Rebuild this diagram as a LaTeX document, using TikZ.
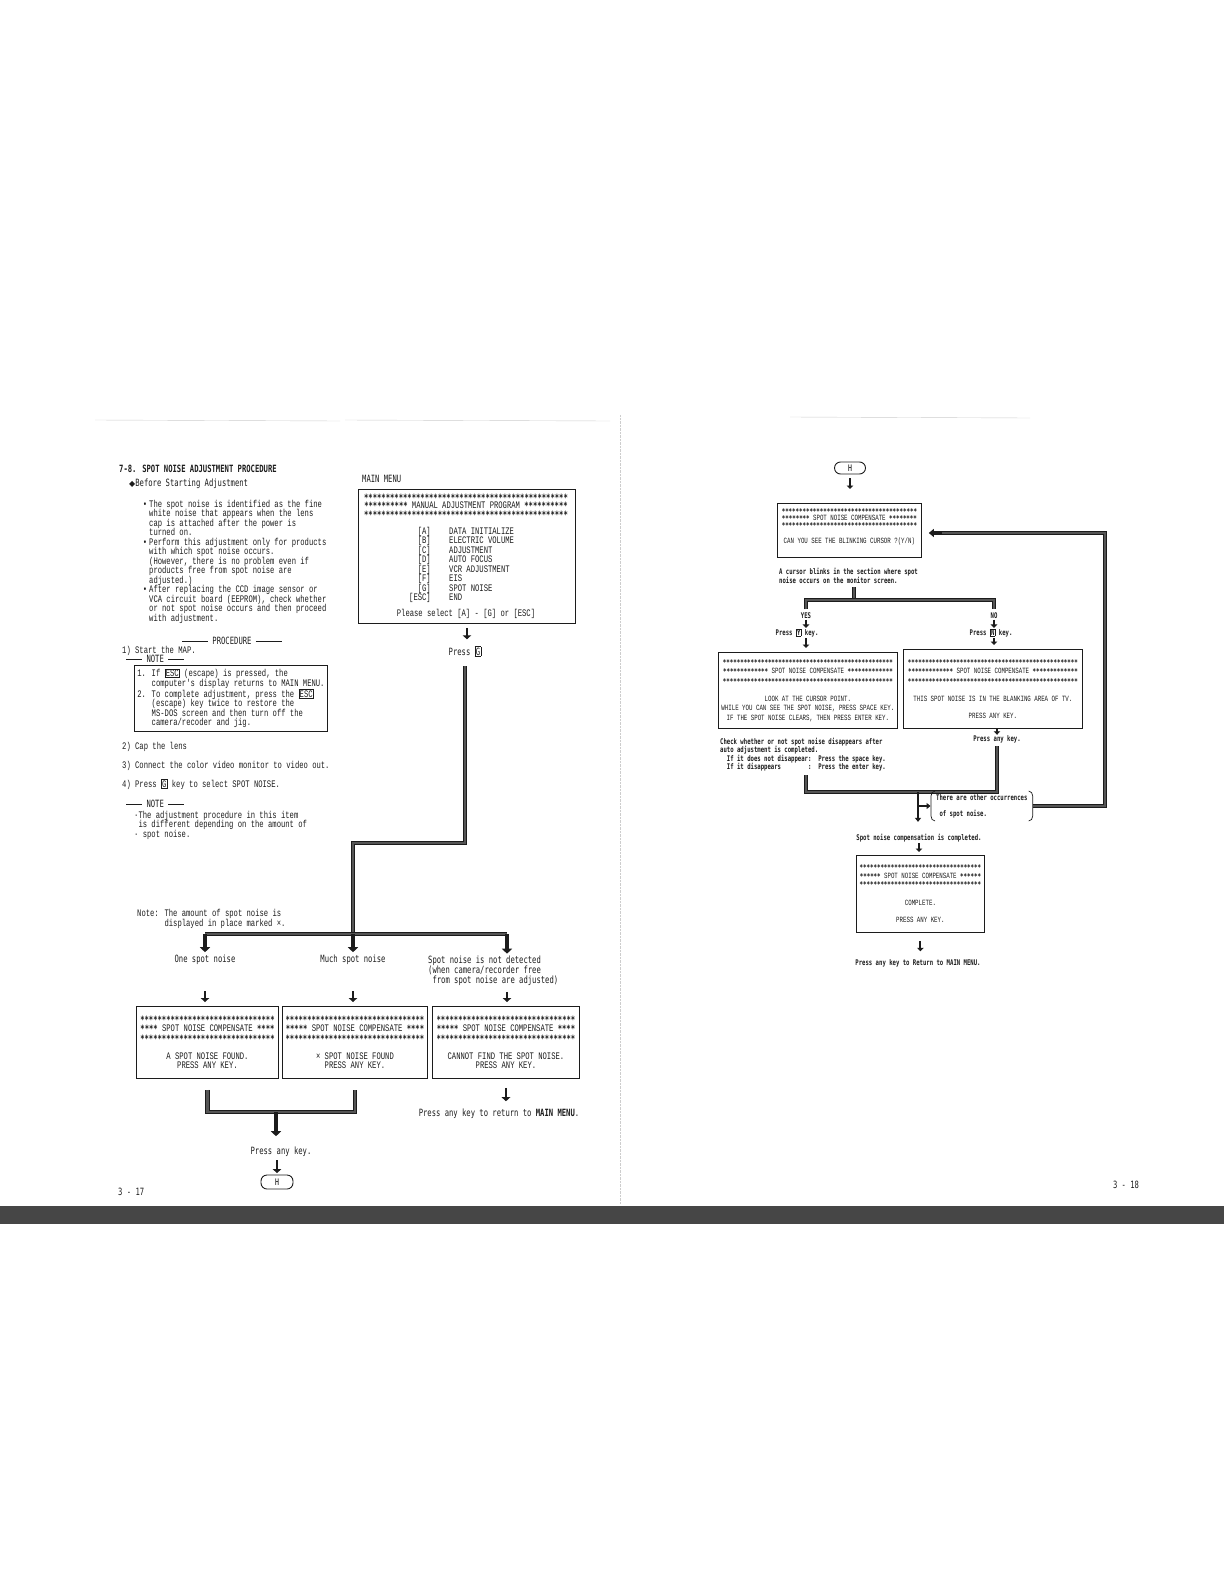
\documentclass[tikz,border=0pt]{standalone}
\usepackage{fontspec}
\usetikzlibrary{arrows.meta,positioning,calc}
\newfontfamily\mincho[FakeStretch=0.72]{Liberation Mono}
\newfontfamily\gothic[FakeStretch=0.72]{DejaVu Sans Mono}
\newfontfamily\symfont{DejaVu Sans}
\definecolor{scanink}{RGB}{28,28,28}
\definecolor{scanpipe}{RGB}{85,85,85}
\definecolor{scanband}{RGB}{70,70,70}
\definecolor{scanfaint}{RGB}{205,205,205}
\newcommand\keycap[1]{{\setlength\fboxsep{0.5pt}\setlength\fboxrule{0.6pt}\fbox{#1}}}
\newcommand\stars[1]{\raisebox{-0.12em}{\gothic\bfseries\foreach\s in {1,...,#1}{*}}}
\newcommand\bodyfont{\mincho\fontsize{10}{9.5}\selectfont}
\newcommand\labfont{\gothic\fontsize{10}{10}\selectfont}
\newcommand\scrfont{\mincho\fontsize{8}{9.5}\selectfont}
\newcommand\notefont{\gothic\bfseries\fontsize{7.8}{8.3}\selectfont}
\tikzset{
  txt/.style={inner sep=0pt, font=\bodyfont, align=left, text=scanink},
  lab/.style={txt, font=\labfont},
  rlab/.style={txt, font=\notefont},
  scrbox/.style={draw=scanink, line width=0.9pt, inner sep=0pt, anchor=north west,
                 font=\bodyfont, align=center, text=scanink},
  rscrbox/.style={scrbox, line width=0.8pt, font=\scrfont},
  pipe/.style={draw=scanink, line width=1pt, double=scanpipe, double distance=2.6pt},
  rpipe/.style={draw=scanink, line width=0.8pt, double=scanpipe, double distance=2pt},
  pipetip/.style={draw=scanink, line width=4.6pt, -{Triangle[length=5pt,width=10pt]}},
  darr/.style={draw=scanink, line width=2.6pt, -{Triangle[length=4pt,width=8.5pt]}},
  rarr/.style={draw=scanink, line width=2pt, -{Triangle[length=3.5pt,width=6.5pt]}},
  rtip/.style={draw=scanink, line width=3.2pt, -{Triangle[length=5pt,width=8pt]}},
  thinarr/.style={draw=scanink, line width=1.6pt, -{Triangle[length=4pt,width=6pt]}},
  keyoval/.style={draw=scanink, line width=0.9pt, rounded corners=6pt, inner sep=0pt,
                  font=\gothic\fontsize{9}{9}\selectfont},
  bracket/.style={draw=scanink, line width=0.7pt},
}
\begin{document}
\begin{tikzpicture}[x=1pt,y=-1pt]
  \useasboundingbox (0,0) rectangle (1224,1584);
  % scan edges
  \fill[scanband] (0,1206) rectangle (1224,1224);
  \draw[scanfaint, densely dotted] (620,415) -- (620,1204);
  \draw[scanfaint] (95,420) -- (340,421) (345,420) -- (610,421) (790,417) -- (1030,418);

  % page 3-17
  \node[lab, font=\labfont\bfseries, anchor=base west] (title) at (119,472) {7-8. SPOT NOISE ADJUSTMENT PROCEDURE};
  \node[lab, anchor=base west] (before) at (129,486) {{\symfont\fontsize{8}{8}\selectfont ◆}Before Starting Adjustment};
  \node[txt, anchor=north west] (bullets) at (149,499.7) {\llap{•\hspace{2pt}}The spot noise is identified as the fine\\
    white noise that appears when the lens\\
    cap is attached after the power is\\
    turned on.\\
    \llap{•\hspace{2pt}}Perform this adjustment only for products\\
    with which spot noise occurs.\\
    (However, there is no problem even if\\
    products free from spot noise are\\
    adjusted.)\\
    \llap{•\hspace{2pt}}After replacing the CCD image sensor or\\
    VCA circuit board (EEPROM), check whether\\
    or not spot noise occurs and then proceed\\
    with adjustment.};
  \node[lab, anchor=base] (proc) at (232,644) {\rule[2.3pt]{26pt}{0.7pt}\ PROCEDURE\ \rule[2.3pt]{26pt}{0.7pt}};
  \node[txt, anchor=base west] (step1) at (122,653) {1) Start the MAP.};
  \node[lab, anchor=base west] (noteA) at (126,662) {\rule[2.3pt]{16pt}{0.7pt}\ NOTE\ \rule[2.3pt]{16pt}{0.7pt}};
  \node[scrbox, minimum width=193pt, minimum height=66pt, align=left] (notebox) at (134,665) {1. If \keycap{ESC} (escape) is pressed, the\\
    \phantom{1. }computer's display returns to MAIN MENU.\\
    2. To complete adjustment, press the \keycap{ESC}\\
    \phantom{2. }(escape) key twice to restore the\\
    \phantom{2. }MS-DOS screen and then turn off the\\
    \phantom{2. }camera/recoder and jig.};
  \node[txt, anchor=base west] (step2) at (122,749) {2) Cap the lens};
  \node[txt, anchor=base west] (step3) at (122,768) {3) Connect the color video monitor to video out.};
  \node[txt, anchor=base west] (step4) at (122,787) {4) Press \keycap{G} key to select SPOT NOISE.};
  \node[lab, anchor=base west] (noteB) at (126,807) {\rule[2.3pt]{16pt}{0.7pt}\ NOTE\ \rule[2.3pt]{16pt}{0.7pt}};
  \node[txt, anchor=north west] (noteBtxt) at (134,810.7) {·The adjustment procedure in this item\\
    \phantom{·}is different depending on the amount of\\
    · spot noise.};

  \node[lab, anchor=base west] (mmlabel) at (362,482) {MAIN MENU};
  \node[scrbox, minimum width=217pt, minimum height=134pt] (menu) at (358,489) {};
  \node[txt, font=\mincho\fontsize{10}{7}\selectfont, align=center] (menuhead) at (466,506)
    {\stars{47}\\\stars{10} MANUAL ADJUSTMENT PROGRAM \stars{10}\\\stars{47}};
  \foreach \k/\m [count=\n from 0] in {A/DATA INITIALIZE,B/ELECTRIC VOLUME,C/ADJUSTMENT,D/AUTO FOCUS,
      E/VCR ADJUSTMENT,F/EIS,G/SPOT NOISE,ESC/END}{
    \node[txt, anchor=base east] (key\k) at (431,{534+9.5*\n}) {[\k]};
    \node[txt, anchor=base west] (item\k) at (449,{534+9.5*\n}) {\m};
  }
  \node[txt, anchor=base] (select) at (466,616) {Please select [A] - [G] or [ESC]};
  \node[lab, anchor=base] (pressg) at (465,655) {Press \keycap{G}};
  \draw[darr, shorten <=4pt, shorten >=7pt] (menu.south) -- (menu.south |- pressg.north);

  \coordinate (kneeL) at (353,843);
  \coordinate (split) at (353,934);
  \coordinate (barL) at (205,934);
  \coordinate (barR) at (507,934);
  \draw[pipe, shorten <=10pt] (pressg.south) |- (kneeL) -- (split);
  \draw[pipe] (barL) -- (barR);

  \node[txt, anchor=north west, font=\mincho\fontsize{10}{9}\selectfont] (noteX) at (137,908.7)
    {Note: The amount of spot noise is\\\phantom{Note: }displayed in place marked ×.};
  \node[lab, anchor=base] (one) at (205,962) {One spot noise};
  \node[lab, anchor=base] (much) at (353,962) {Much spot noise};
  \node[lab, anchor=north west] (nodetect) at (428,955.7) {Spot noise is not detected\\
    (when camera/recorder free\\\phantom{(}from spot noise are adjusted)};
  \draw[pipetip, shorten >=2pt] (barL) -- (one.north);
  \draw[pipetip, shorten >=2pt] (split) -- (much.north);
  \draw[pipetip, shorten >=2pt] (barR) -- (barR |- nodetect.north);

  \node[scrbox, minimum width=142pt, minimum height=72pt] (found1) at (136,1006)
    {\stars{31}\\\stars{4} SPOT NOISE COMPENSATE \stars{4}\\\stars{31}\\[8.5pt]A SPOT NOISE FOUND.\\PRESS ANY KEY.};
  \node[scrbox, minimum width=145pt, minimum height=72pt] (found2) at (282,1006)
    {\stars{32}\\\stars{5} SPOT NOISE COMPENSATE \stars{4}\\\stars{32}\\[8.5pt]× SPOT NOISE FOUND\\PRESS ANY KEY.};
  \node[scrbox, minimum width=147pt, minimum height=72pt] (found3) at (432,1006)
    {\stars{32}\\\stars{5} SPOT NOISE COMPENSATE \stars{4}\\\stars{32}\\[8.5pt]CANNOT FIND THE SPOT NOISE.\\PRESS ANY KEY.};
  \draw[darr, shorten <=27pt, shorten >=4pt] (one.south) -- (one.south |- found1.north);
  \draw[darr, shorten <=27pt, shorten >=4pt] (much.south) -- (much.south |- found2.north);
  \draw[darr, shorten <=6pt, shorten >=4pt] (nodetect.south -| barR) -- (barR |- found3.north);

  \coordinate (uM) at (276,1112);
  \draw[pipe] ([yshift=-11pt]found1.south) |- (uM) -| ([yshift=-11pt]found2.south);
  \node[lab, anchor=base] (anykey) at (281,1154) {Press any key.};
  \draw[pipetip, shorten >=10pt] (uM) -- (uM |- anykey.north);
  \node[keyoval, minimum width=32pt, minimum height=14pt] (ovalL) at (277,1182) {H};
  \draw[darr, shorten <=4pt, shorten >=1.5pt] (anykey.south -| ovalL.north) -- (ovalL.north);
  \node[lab, anchor=base] (retL) at (499,1116) {Press any key to return to \textbf{MAIN MENU}.};
  \draw[darr, shorten <=9pt, shorten >=7pt] (found3.south) -- (found3.south |- retL.north);
  \node[lab, anchor=base west] (pageL) at (118,1195) {3 - 17};

  % page 3-18
  \node[keyoval, minimum width=31pt, minimum height=12pt] (ovalR) at (850,468) {H};
  \node[rscrbox, minimum width=144pt, minimum height=54pt, font=\mincho\fontsize{8}{7}\selectfont] (boxQ) at (777,503)
    {\stars{39}\\\stars{8} SPOT NOISE COMPENSATE \stars{8}\\\stars{39}\\[9pt]CAN YOU SEE THE BLINKING CURSOR ?(Y/N)\rule[-9pt]{0pt}{1pt}};
  \draw[rarr, shorten <=4pt, shorten >=14pt] (ovalR.south) -- (ovalR.south |- boxQ.north);
  \node[rlab, anchor=north west, font=\gothic\bfseries\fontsize{7.8}{9}\selectfont] (cursor) at (779,568.4)
    {A cursor blinks in the section where spot\\noise occurs on the monitor screen.};

  \coordinate (yn) at (854,600);
  \node[rlab, anchor=base] (yes) at (806,618.4) {YES};
  \node[rlab, anchor=base] (no) at (994,618.4) {NO};
  \draw[rpipe, shorten <=3pt] (cursor.south -| yn) -- (yn);
  \draw[rpipe] ([yshift=3pt]yes.north) |- (yn) -| ([yshift=3pt]no.north);
  \node[rlab, anchor=base] (pressy) at (797,635.4) {Press \keycap{Y} key.};
  \node[rlab, anchor=base] (pressn) at (991,635.4) {Press \keycap{N} key.};
  \draw[rarr, shorten <=1pt, shorten >=0.5pt] (yes.south) -- (yes.south |- pressy.north);
  \draw[rarr, shorten <=1pt, shorten >=0.5pt] (no.south) -- (no.south |- pressn.north);

  \node[rscrbox, minimum width=179pt, minimum height=76pt] (boxY) at (718,652)
    {\stars{49}\\\stars{13} SPOT NOISE COMPENSATE \stars{13}\\\stars{49}\\[8.5pt]LOOK AT THE CURSOR POINT.\\
     WHILE YOU CAN SEE THE SPOT NOISE, PRESS SPACE KEY.\\IF THE SPOT NOISE CLEARS, THEN PRESS ENTER KEY.};
  \node[rscrbox, minimum width=179pt, minimum height=79pt] (boxN) at (903,649)
    {\stars{49}\\\stars{13} SPOT NOISE COMPENSATE \stars{13}\\\stars{49}\\[9pt]THIS SPOT NOISE IS IN THE BLANKING AREA OF TV.\\[7.5pt]PRESS ANY KEY.};
  \draw[rarr, shorten <=1pt, shorten >=4pt] (pressy.south -| yes.south) -- (yes.south |- boxY.north);
  \draw[rarr, shorten <=1pt, shorten >=4pt] (pressn.south -| no.south) -- (no.south |- boxN.north);

  \node[rlab, anchor=base] (anyn) at (997,741.4) {Press any key.};
  \draw[rarr, shorten <=0.5pt, shorten >=0.5pt] (boxN.south -| anyn.north) -- (anyn.north);
  \node[rlab, anchor=north west] (check) at (720,738) {Check whether or not spot noise disappears after\\
    auto adjustment is completed.\\
    \phantom{xx}If it does not disappear:\phantom{xx}Press the space key.\\
    \phantom{xx}If it disappears\phantom{xxxxxxxx}:\phantom{xx}Press the enter key.};

  \coordinate (mleft) at (806,775);
  \coordinate (mjoin) at (918,792);
  \draw[rpipe] (mleft) |- (mjoin) -| ([yshift=-3pt]anyn.south);
  \node[rlab, anchor=west, inner xsep=5pt, inner ysep=3pt] (other) at (931,806)
    {There are other occurrences\\[7.7pt]\phantom{x}of spot noise.};
  \draw[bracket] ([xshift=4pt]other.north west) to[out=180,in=90] ([yshift=-5pt]other.north west)
    -- ([yshift=5pt]other.south west) to[out=-90,in=180] ([xshift=4pt]other.south west);
  \draw[bracket] ([xshift=-4pt]other.north east) to[out=0,in=90] ([yshift=-5pt]other.north east)
    -- ([yshift=5pt]other.south east) to[out=-90,in=0] ([xshift=-4pt]other.south east);
  \draw[thinarr, shorten >=0.5pt] (mjoin |- other.west) -- (other.west);

  \coordinate (loopT) at (1105,533);
  \coordinate (loopEnd) at (942,533);
  \draw[rpipe] (other.east) -| (loopT) -- (loopEnd);
  \draw[rtip, shorten >=7pt] (loopEnd) -- (boxQ.east |- loopEnd);

  \node[rlab, anchor=base] (done) at (919,840.4) {Spot noise compensation is completed.};
  \draw[thinarr, shorten >=12pt] (mjoin) -- (mjoin |- done.north);
  \node[rscrbox, minimum width=128pt, minimum height=77pt, font=\mincho\fontsize{8}{8.5}\selectfont] (boxC) at (856,855)
    {\stars{35}\\\stars{6} SPOT NOISE COMPENSATE \stars{6}\\\stars{35}\\[10.5pt]COMPLETE.\\[8.5pt]PRESS ANY KEY.};
  \draw[rarr, shorten <=1pt, shorten >=3pt] (done.south) -- (done.south |- boxC.north);
  \node[rlab, anchor=base] (retR) at (918,965.4) {Press any key to Return to MAIN MENU.};
  \draw[rarr, shorten <=8pt, shorten >=8pt] (boxC.south) -- (boxC.south |- retR.north);
  \node[lab, anchor=base] (pageR) at (1126,1188) {3 - 18};
\end{tikzpicture}
\end{document}
